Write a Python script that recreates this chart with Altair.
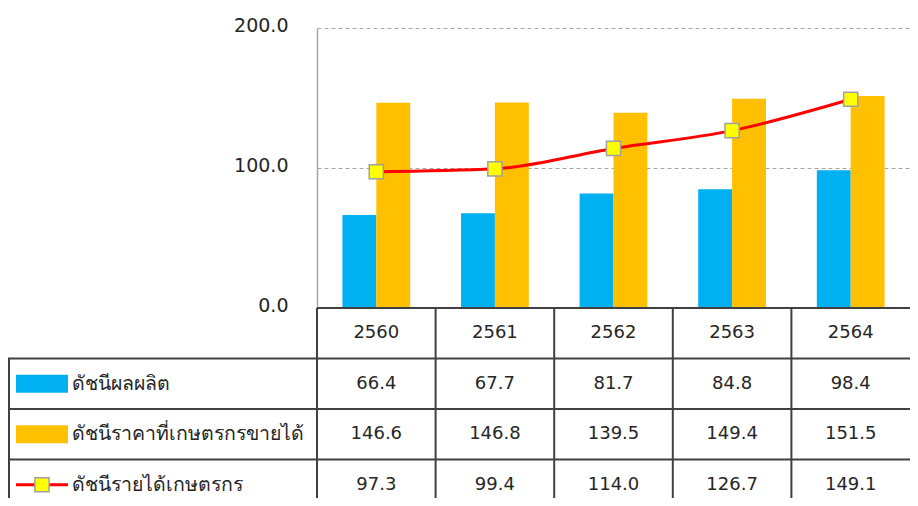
import altair as alt
import pandas as pd

# ---- data ----
years = ["2560", "2561", "2562", "2563", "2564"]
production = [66.4, 67.7, 81.7, 84.8, 98.4]
price = [146.6, 146.8, 139.5, 149.4, 151.5]
income = [97.3, 99.4, 114.0, 126.7, 149.1]
series_names = ["ดัชนีผลผลิต", "ดัชนีราคาที่เกษตรกรขายได้", "ดัชนีรายได้เกษตรกร"]
y_ticks = [0, 100, 200]

# ---- layout ----
W = 593
H = 470
LEFT = 309
FONT = "Tahoma, 'DejaVu Sans', 'Noto Sans', sans-serif"
TXT = "#262626"
LINE = "#404040"

bars_df = pd.DataFrame({
    "year": years * 2,
    "series": [series_names[0]] * 5 + [series_names[1]] * 5,
    "value": production + price,
})
line_df = pd.DataFrame({"year": years, "value": income})

rows = ["hdr", "r1", "r2", "r3"]
cells = []
for i, yv in enumerate(years):
    cells.append({"year": yv, "row": "hdr", "label": yv})
    cells.append({"year": yv, "row": "r1", "label": f"{production[i]:.1f}"})
    cells.append({"year": yv, "row": "r2", "label": f"{price[i]:.1f}"})
    cells.append({"year": yv, "row": "r3", "label": f"{income[i]:.1f}"})
cells_df = pd.DataFrame(cells)
legend_df = pd.DataFrame({"row": ["r1", "r2", "r3"], "name": series_names})
rows_df = pd.DataFrame({"row": rows})
years_df = pd.DataFrame({"year": years})

xscale = alt.Scale(domain=years, paddingInner=0, paddingOuter=0)
yq = alt.Scale(domain=[0, 200], range=[280, 0])
yrow = alt.Scale(domain=rows, range=[280, 482], paddingInner=0, paddingOuter=0)
X = alt.X("year:N", scale=xscale, axis=None)
yaxis = alt.Axis(
    values=y_ticks, format=".1f", title=None, grid=True, gridDash=[4, 3],
    gridColor="#A6A6A6", gridWidth=1, domainColor="#A6A6A6", domainWidth=1.5,
    ticks=False, tickSize=0, labelPadding=29, labelFontSize=19, labelFont=FONT,
    labelColor=TXT, labelOffset=-3)
YQ = alt.Y("value:Q", scale=yq, axis=yaxis)

bars = alt.Chart(bars_df).mark_bar().encode(
    x=X,
    xOffset=alt.XOffset("series:N", scale=alt.Scale(domain=series_names[:2], paddingOuter=0.75, paddingInner=0)),
    y=YQ,
    color=alt.Color("series:N", scale=alt.Scale(domain=series_names[:2], range=["#00B0F0", "#FFC000"]), legend=None),
)
line = alt.Chart(line_df).mark_line(color="#FF0000", strokeWidth=3, interpolate="monotone").encode(
    x=X, y=YQ)
pts = alt.Chart(line_df).mark_point(shape="square", filled=True, fill="#FFFF00", stroke="#A0A0A0",
                                    strokeWidth=1.5, size=200, opacity=1).encode(
    x=X, y=YQ)
plot = alt.layer(bars, line, pts)

Yr = alt.Y("row:N", scale=yrow, axis=None)
Yr0 = alt.Y("row:N", scale=yrow, axis=None, bandPosition=0)

cell_text = alt.Chart(cells_df).mark_text(fontSize=18, font=FONT, color=TXT, baseline="middle").encode(
    x=X, y=Yr, text="label:N")
name_text = alt.Chart(legend_df).mark_text(fontSize=19.5, font=FONT, color=TXT, baseline="middle", align="left").encode(
    x=alt.value(-245), y=Yr, text="name:N")
sw1 = alt.Chart(legend_df).transform_filter("datum.row == 'r1'").mark_bar(size=18, color="#00B0F0").encode(
    x=alt.value(-301), x2=alt.value(-249), y=Yr)
sw2 = alt.Chart(legend_df).transform_filter("datum.row == 'r2'").mark_bar(size=18, color="#FFC000").encode(
    x=alt.value(-301), x2=alt.value(-249), y=Yr)
sw3 = alt.Chart(legend_df).transform_filter("datum.row == 'r3'").mark_rule(color="#FF0000", strokeWidth=3).encode(
    x=alt.value(-301), x2=alt.value(-249), y=Yr)
sw3p = alt.Chart(legend_df).transform_filter("datum.row == 'r3'").mark_point(
    shape="square", filled=True, fill="#FFFF00", stroke="#A0A0A0", strokeWidth=1.5, size=200, opacity=1).encode(
    x=alt.value(-275), y=Yr)

hline_top = alt.Chart(rows_df).transform_filter("datum.row == 'hdr'").mark_rule(color=LINE, strokeWidth=2).encode(
    x=alt.value(0), x2=alt.value(W), y=Yr0)
hlines = alt.Chart(rows_df).transform_filter("datum.row != 'hdr'").mark_rule(color=LINE, strokeWidth=2).encode(
    x=alt.value(-LEFT), x2=alt.value(W), y=Yr0)
vlines = alt.Chart(years_df).mark_rule(color=LINE, strokeWidth=2).encode(
    x=alt.X("year:N", scale=xscale, axis=None, bandPosition=0), y=alt.value(280), y2=alt.value(490))
vleft = alt.Chart(years_df).transform_filter("datum.year == '2560'").mark_rule(color=LINE, strokeWidth=2).encode(
    x=alt.value(-LEFT + 1), y=alt.value(330.5), y2=alt.value(490))

table = alt.layer(cell_text, name_text, sw1, sw2, sw3, sw3p, hline_top, hlines, vlines, vleft)

chart = alt.layer(plot, table).resolve_scale(y="independent").properties(
    width=W, height=H,
    autosize=alt.AutoSizeParams(type="none"),
    padding={"left": LEFT, "top": 20, "right": 0, "bottom": 0},
    background="white",
).configure_view(stroke=None)

chart.save("out.html", embed_options={"renderer": "svg", "actions": False})
